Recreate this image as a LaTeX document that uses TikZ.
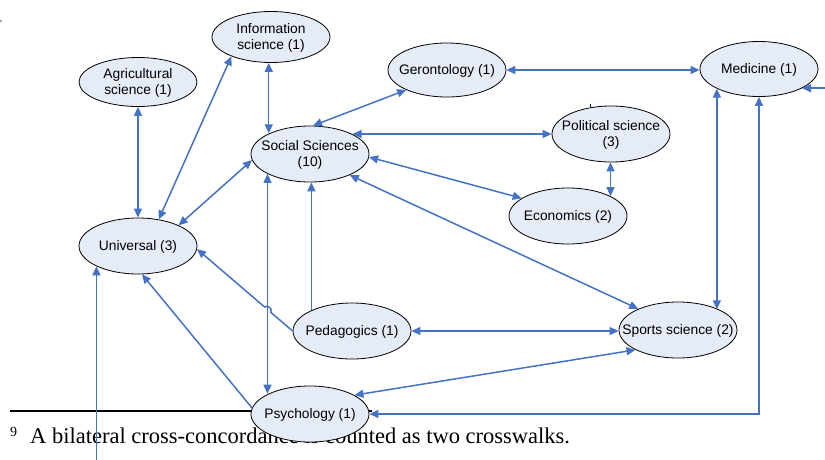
\documentclass[tikz,border=0pt]{standalone}
\usepackage{fontspec}
\setmainfont{Liberation Serif}
\newfontfamily\arialf{Liberation Sans}
\usetikzlibrary{shapes.geometric,arrows.meta,calc}
\definecolor{edgeblue}{HTML}{4472C4}
\definecolor{nodefill}{HTML}{E6ECF7}
\newcommand{\nlab}[1]{\makebox[0pt]{\raisebox{-5.2pt}[0pt][0pt]{\begin{tabular}{@{}c@{}}#1\end{tabular}}}}
\begin{document}
\begin{tikzpicture}[x=1pt,y=-1pt,
  disc/.style={ellipse, draw=black, line width=0.8pt, fill=nodefill, inner sep=0pt,
    minimum width=118pt, minimum height=56pt, font=\arialf\fontsize{13.8}{16}\selectfont},
  tip/.tip={Triangle[length=9pt,width=8pt]},
  link/.style={draw=edgeblue, line width=1.5pt, tip-tip},
  one/.style={draw=edgeblue, line width=1.5pt, -tip}]
\useasboundingbox (0,0) rectangle (825,459);

% footnote (behind the diagram)
\draw[line width=1.8pt] (10,411) -- (372,411);
\node[anchor=base west, inner sep=0pt, font=\fontsize{14}{16}\selectfont] (fnmark) at (10,436) {9};
\node[anchor=base west, inner sep=0pt, font=\fontsize{22.5}{26}\selectfont] (fntext) at (30,443)
  {A bilateral cross-concordance is counted as two crosswalks.};

% small marks
\fill[gray] (1,21) circle (1.2pt);
\draw[black, line width=0.6pt] (590,103.5) -- (590,107);

% nodes
\node[disc, minimum height=49pt] (agr) at (138,82) {\nlab{Agricultural\\science (1)}};
\node[disc, minimum height=51pt] (info) at (271,37) {\nlab{Information\\science (1)}};
\node[disc, minimum height=54pt] (ger) at (447,70) {\nlab{Gerontology (1)}};
\node[disc, minimum height=55pt] (med) at (759,69) {\nlab{Medicine (1)}};
\node[disc] (soc) at (310,154) {\nlab{Social Sciences\\(10)}};
\node[disc] (pol) at (611,134) {\nlab{Political science\\(3)}};
\node[disc] (eco) at (568,216) {\nlab{Economics (2)}};
\node[disc] (uni) at (138,246) {\nlab{Universal (3)}};
\node[disc] (ped) at (352,331) {\nlab{Pedagogics (1)}};
\node[disc] (spo) at (678,330) {\nlab{Sports science (2)}};
\node[disc] (psy) at (310,414) {\nlab{Psychology (1)}};

% free ends
\coordinate (rin) at (826,88);
\coordinate (bin) at (97,460);

% connectors
\draw[link] (agr.south) -- (uni.north);
\draw[link] (uni.52) -- (info.206);
\draw[link] (info.265.4 |- info.south) -- (info.265.4 |- soc.153.9);
\draw[link] (soc.186) -- (uni.27.6);
\draw[link] (soc.84) -- (ger.206.6);
\draw[link] (ger.east) -- (ger.east -| med.west);
\draw[link] (soc.25.8 |- pol.west) -- (pol.west);
\draw[link] (soc.-3) -- (eco.159.6);
\draw[link] (eco.25.1 |- pol.south) -- (eco.25.1);
\draw[link] (soc.-28.1) -- (spo.152.9);
\draw[link] (med.205.8) -- (med.205.8 |- spo.27.2);
\draw[one] (rin |- med.-24) -- (med.-24);
\draw[link] (med.south) -- (med.south |- psy.east) -- (psy.east);
\draw[link] (soc.205.1) -- (soc.205.1 |- psy.154.9);
\draw[one] (ped.153.3) -- (ped.153.3 |- soc.south);
\coordinate (h1) at ($(ped.west)!0.229!(uni.-3)$);
\coordinate (h2) at ($(ped.west)!0.292!(uni.-3)$);
\draw[one] (ped.west) -- (h1)
  .. controls ($(h1)!4pt!-90:(h2)$) and ($(h2)!4pt!90:(h1)$) .. (h2) -- (uni.-3);
\draw[link] (ped.east) -- (ped.east -| spo.west);
\draw[link] (spo.205) -- (psy.23.8);
\draw[one] (psy.174) -- (uni.-82);
\draw[one] (uni.206.7 |- bin) -- (uni.206.7);
\end{tikzpicture}
\end{document}
